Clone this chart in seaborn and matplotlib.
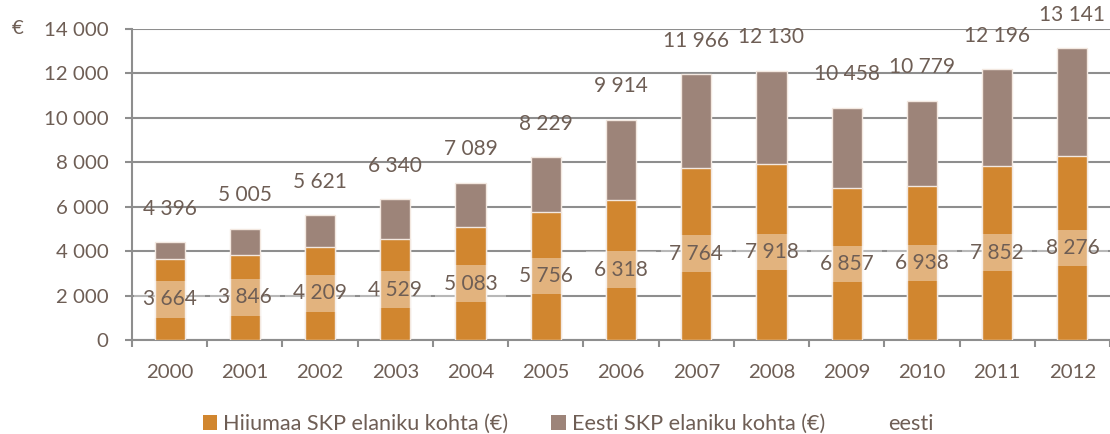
import matplotlib
matplotlib.use("Agg")
import matplotlib.pyplot as plt
import seaborn as sns
import pandas as pd
from matplotlib.patches import Patch
from matplotlib.lines import Line2D
from matplotlib.ticker import FixedLocator

years = ["2000", "2001", "2002", "2003", "2004", "2005", "2006",
         "2007", "2008", "2009", "2010", "2011", "2012"]
hiiumaa = [3664, 3846, 4209, 4529, 5083, 5756, 6318, 7764, 7918, 6857, 6938, 7852, 8276]
eesti = [4396, 5005, 5621, 6340, 7089, 8229, 9914, 11966, 12130, 10458, 10779, 12196, 13141]
yticks = [0, 2000, 4000, 6000, 8000, 10000, 12000, 14000]
legend_labels = ["Hiiumaa SKP elaniku kohta (€)", "Eesti SKP elaniku kohta (€)", "eesti"]

ORANGE = "#D1862F"
BROWN = "#9D8479"
TEXT = "#6E5E55"
GRID = "#8E8E8E"
EDGE = "#F3E8E0"

sns.set_theme(style="white")
plt.rcParams["font.family"] = ["Lato", "DejaVu Sans"]

def fmt(v):
    return f"{v:,}".replace(",", " ")

df = pd.DataFrame({"year": years, "hiiumaa": hiiumaa, "eesti": eesti})

fig = plt.figure(figsize=(11.10, 4.34), dpi=100)
ax = fig.add_axes([132 / 1110, (434 - 340) / 434, 1 - 132 / 1110, (340 - 29) / 434])

sns.barplot(data=df, x="year", y="eesti", color=BROWN, saturation=1, width=0.4,
            edgecolor=EDGE, linewidth=1, ax=ax, zorder=2)
sns.barplot(data=df, x="year", y="hiiumaa", color=ORANGE, saturation=1, width=0.4,
            edgecolor=EDGE, linewidth=1, ax=ax, zorder=3)

ax.set_xlim(-0.5, len(years) - 0.5)
ax.set_ylim(0, 14000)
ax.set_yticks(yticks)
ax.set_yticklabels([fmt(v) for v in yticks])
ax.set_xlabel("")
ax.set_ylabel("")

ax.set_axisbelow(True)
ax.yaxis.grid(True, color=GRID, linewidth=1.5, zorder=0)
ax.xaxis.grid(False)
for s in ["top", "right"]:
    ax.spines[s].set_visible(False)
for s in ["left", "bottom"]:
    ax.spines[s].set_color(GRID)
    ax.spines[s].set_linewidth(1.5)

ax.tick_params(axis="y", which="major", length=5, width=1.5, color=GRID, direction="out",
               pad=12, labelsize=14.7, labelcolor=TEXT, left=True)
ax.tick_params(axis="x", which="major", length=0, pad=17, labelsize=14.7, labelcolor=TEXT)
ax.xaxis.set_minor_locator(FixedLocator([i - 0.5 for i in range(len(years) + 1)]))
ax.tick_params(axis="x", which="minor", length=5, width=1.5, color=GRID, direction="out", bottom=True)

for i, (h, e) in enumerate(zip(hiiumaa, eesti)):
    ax.text(i, h / 2, fmt(h), ha="center", va="center", fontsize=15, color=TEXT, zorder=5,
            bbox=dict(boxstyle="square,pad=0.4", facecolor="white", edgecolor="none", alpha=0.38))
    ax.annotate(fmt(e), xy=(i, e), xytext=(0, 24), textcoords="offset points",
                ha="center", va="center", fontsize=15, color=TEXT, zorder=5,
                annotation_clip=False)

fig.text(18 / 1110, 1 - 29 / 434, "€", ha="center", va="center", fontsize=14.7, color=TEXT)

handles = [Patch(facecolor=ORANGE, edgecolor="none"),
           Patch(facecolor=BROWN, edgecolor="none"),
           Line2D([], [], color="none")]
fig.legend(handles, legend_labels, loc="center", bbox_to_anchor=(0.512, 1 - 424 / 434),
           ncol=3, frameon=False, fontsize=15.6, labelcolor=TEXT,
           handlelength=0.65, handleheight=0.65, handletextpad=0.28, columnspacing=2.0)

fig.savefig("out.png", dpi=100)
